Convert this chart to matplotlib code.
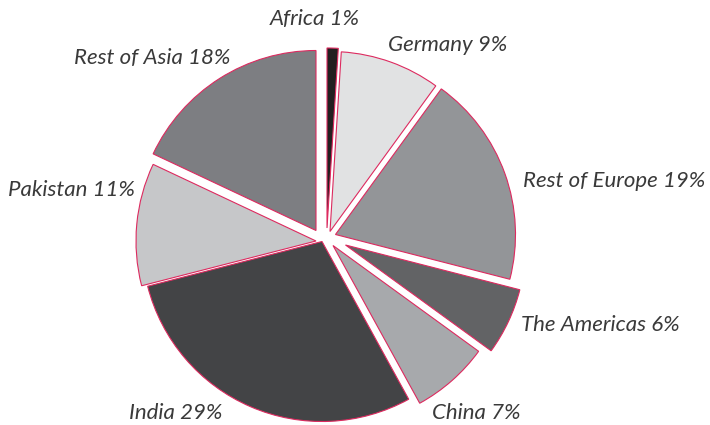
import matplotlib.pyplot as plt

# data
regions = ['Africa', 'Germany', 'Rest of Europe', 'The Americas',
           'China', 'India', 'Pakistan', 'Rest of Asia']
shares = [1, 9, 19, 6, 7, 29, 11, 18]

colors = ['#231f20', '#e1e2e3', '#939598', '#626365',
          '#a7a9ac', '#434446', '#c6c7c9', '#7d7e82']
# shift of each wedge from the pie centre, pixels (x right, y down)
shifts = [(0, -4), (3, -0.5), (8.5, 2.5), (18.5, 13),
          (6, 13.5), (-5, 9.5), (-11, 9), (-11, -1.5)]

W, H = 710, 425
cx, cy, R = 327, 425 - 232, 180

fig = plt.figure(figsize=(W / 100, H / 100), dpi=100)
ax = fig.add_axes([0, 0, 1, 1])

wedges, _ = ax.pie(shares, colors=colors, startangle=90, counterclock=False,
                   center=(cx, cy), radius=R,
                   wedgeprops=dict(edgecolor='#dd2a5f', linewidth=0.8))
# pieces were pulled apart by hand in the original
for w, (dx, dy) in zip(wedges, shifts):
    w.set_center((cx + dx, cy - dy))

# label positions (pixel coords, y from top) and alignment
label_pos = [(270, 19, 'left'), (388, 45, 'left'), (523, 181, 'left'),
             (521, 325, 'left'), (432, 413, 'left'), (222, 413, 'right'),
             (135, 190, 'right'), (230, 58, 'right')]
for name, val, (x, y, ha) in zip(regions, shares, label_pos):
    ax.text(x, H - y, f'{name} {val}%', ha=ha, va='center',
            fontsize=16, style='italic', family='Lato', color='#3a3a3a')

ax.set_xlim(0, W)
ax.set_ylim(0, H)
ax.set_aspect('equal')
ax.axis('off')

fig.savefig('out.png', dpi=100)
